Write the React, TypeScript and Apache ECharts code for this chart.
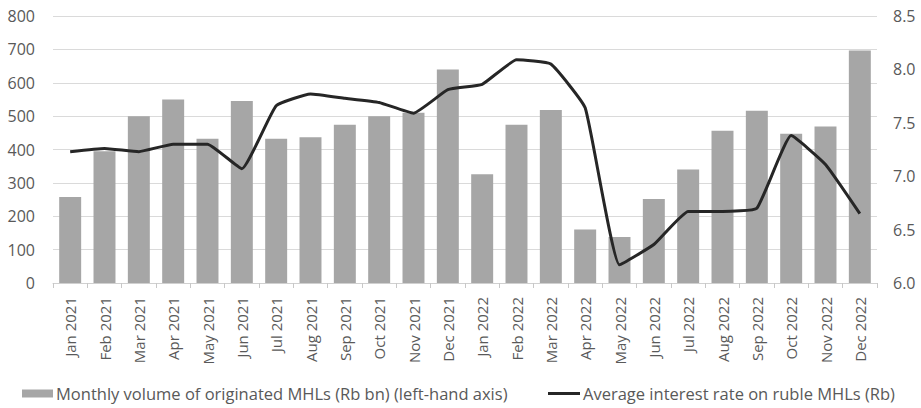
import React, { useEffect, useRef } from "react";
import * as echarts from "echarts";

const months = [
  "Jan 2021", "Feb 2021", "Mar 2021", "Apr 2021", "May 2021", "Jun 2021",
  "Jul 2021", "Aug 2021", "Sep 2021", "Oct 2021", "Nov 2021", "Dec 2021",
  "Jan 2022", "Feb 2022", "Mar 2022", "Apr 2022", "May 2022", "Jun 2022",
  "Jul 2022", "Aug 2022", "Sep 2022", "Oct 2022", "Nov 2022", "Dec 2022",
];

// Monthly volume of originated MHLs, Rb bn
const volume = [
  258, 395, 500, 550, 432, 545, 432, 437, 474, 500, 510, 640,
  326, 474, 518, 160, 138, 252, 340, 456, 516, 447, 469, 697,
];

// Average interest rate on ruble MHLs, %
const rate = [
  7.23, 7.26, 7.23, 7.30, 7.30, 7.07, 7.66, 7.77, 7.73, 7.69, 7.59, 7.81,
  7.86, 8.09, 8.05, 7.64, 6.17, 6.36, 6.67, 6.67, 6.70, 7.38, 7.11, 6.65,
];

const volumeName = "Monthly volume of originated MHLs (Rb bn) (left-hand axis)";
const rateName = "Average interest rate on ruble MHLs (Rb)";

const FONT = "'Open Sans', sans-serif";
const LABEL = "#595959";
const BAR = "#a6a6a6";
const LINE = "#262626";

const legendText = {
  fontFamily: FONT,
  fontSize: 16.5,
  lineHeight: 17,
  color: LABEL,
  padding: [0, 0, 0, -2],
};

export default function App() {
  const ref = useRef<HTMLDivElement>(null);

  useEffect(() => {
    if (!ref.current) return;
    const chart = echarts.init(ref.current, null, { renderer: "svg" });
    chart.setOption({
      animation: false,
      backgroundColor: "#ffffff",
      textStyle: { fontFamily: FONT },
      grid: { left: 53, right: 44, top: 16, bottom: 125 },
      legend: [
        {
          data: [{ name: volumeName, icon: "rect" }],
          left: 22,
          top: 385,
          padding: 0,
          itemWidth: 31,
          itemHeight: 8,
          textStyle: legendText,
        },
        {
          data: [{ name: rateName, icon: "rect" }],
          left: 548,
          top: 385,
          padding: 0,
          itemWidth: 32,
          itemHeight: 3,
          textStyle: legendText,
        },
      ],
      xAxis: {
        type: "category",
        data: months,
        axisLine: { lineStyle: { color: "#d0d0d0", width: 1 } },
        axisTick: { show: true, length: 5, lineStyle: { color: "#c8c8c8" } },
        axisLabel: {
          rotate: 90,
          interval: 0,
          margin: 14,
          fontSize: 15,
          fontFamily: FONT,
          color: LABEL,
        },
      },
      yAxis: [
        {
          type: "value",
          min: 0,
          max: 800,
          interval: 100,
          axisLine: { show: false },
          axisTick: { show: false },
          splitLine: { lineStyle: { color: "#dadada", width: 1 } },
          axisLabel: { fontSize: 16, fontFamily: FONT, color: LABEL, margin: 18 },
        },
        {
          type: "value",
          min: 6,
          max: 8.5,
          interval: 0.5,
          axisLine: { show: false },
          axisTick: { show: false },
          splitLine: { show: false },
          axisLabel: {
            fontSize: 16,
            fontFamily: FONT,
            color: LABEL,
            margin: 16,
            formatter: (v: number) => v.toFixed(1),
          },
        },
      ],
      series: [
        {
          name: volumeName,
          type: "bar",
          data: volume,
          yAxisIndex: 0,
          barWidth: "64%",
          itemStyle: { color: BAR },
        },
        {
          name: rateName,
          type: "line",
          data: rate,
          yAxisIndex: 1,
          smooth: 0.12,
          symbol: "none",
          lineStyle: { color: LINE, width: 3 },
          itemStyle: { color: LINE },
        },
      ],
    });
    return () => chart.dispose();
  }, []);

  return (
    <div
      ref={ref}
      style={{ position: "fixed", left: 0, top: 0, width: 921, height: 408 }}
    />
  );
}
